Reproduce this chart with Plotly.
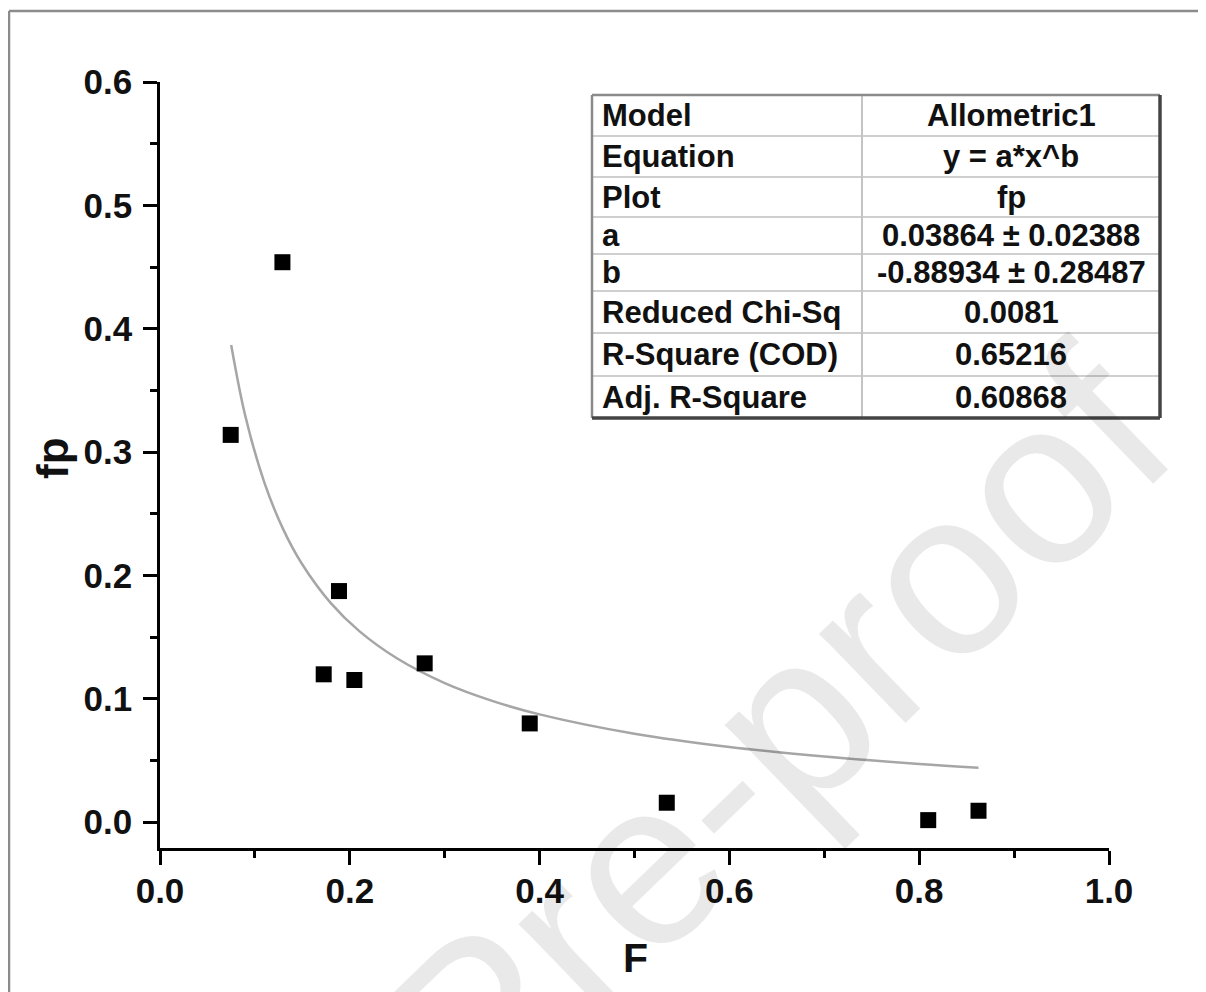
import plotly.graph_objects as go

# ---- data ----
F_values = [0.0745, 0.129, 0.1886, 0.1725, 0.2048, 0.2789, 0.3896, 0.534, 0.8095, 0.8625]
fp_values = [0.3139, 0.4539, 0.1873, 0.1198, 0.1152, 0.1287, 0.0800, 0.0157, 0.0016, 0.0092]

fit_F = [0.075, 0.09, 0.11, 0.13, 0.15, 0.18, 0.21, 0.25, 0.30, 0.35, 0.40, 0.50, 0.60, 0.70, 0.80, 0.8625]
fit_fp = [0.3868, 0.3289, 0.2752, 0.2371, 0.2088, 0.1775, 0.1548, 0.1326, 0.1127, 0.0983,
          0.0873, 0.0716, 0.0609, 0.0531, 0.0471, 0.0441]

table_labels = ["Model", "Equation", "Plot", "a", "b", "Reduced Chi-Sq", "R-Square (COD)", "Adj. R-Square"]
table_values = ["Allometric1", "y = a*x^b", "fp", "0.03864 ± 0.02388", "-0.88934 ± 0.28487",
                "0.0081", "0.65216", "0.60868"]

x_ticks = [0.0, 0.2, 0.4, 0.6, 0.8, 1.0]
y_ticks = [0.0, 0.1, 0.2, 0.3, 0.4, 0.5, 0.6]

# ---- layout geometry (page pixels; the page body has an 8px margin) ----
OFF = 8
W, H = 1206 - OFF, 992 - OFF
L, T = 160 - OFF, 82 - OFF
R = W - (1109 - OFF)
B = H - (848 - OFF)
PW, PH = W - L - R, H - T - B


def px(X):
    return (X - OFF - L) / PW


def py(Y):
    return (H - B - (Y - OFF)) / PH


FONT = "Arial, Liberation Sans, sans-serif"

fig = go.Figure()

fig.add_trace(go.Scatter(
    x=fit_F, y=fit_fp, mode="lines", line=dict(color="#a6a6a6", width=2.5, shape="spline"),
    showlegend=False, hoverinfo="skip"))

fig.add_trace(go.Scatter(
    x=F_values, y=fp_values, mode="markers",
    marker=dict(symbol="square", size=16, color="black", line=dict(width=0)),
    showlegend=False, cliponaxis=False))

axis_common = dict(
    showline=True, linecolor="black", linewidth=2.5, mirror=False,
    ticks="outside", ticklen=14, tickwidth=2.5, tickcolor="black",
    showgrid=False, zeroline=False,
    tickfont=dict(family=FONT, size=35, color="#111111", weight="bold"),
)

fig.update_xaxes(range=[0, 1.0], tickvals=x_ticks, tickformat=".1f",
                 minor=dict(ticks="outside", ticklen=7, tickwidth=2.5, tickcolor="black", dtick=0.1, showgrid=False),
                 ticklabelstandoff=-4, **axis_common)
fig.update_yaxes(range=[-0.021, 0.6], tickvals=y_ticks, tickformat=".1f",
                 minor=dict(ticks="outside", ticklen=7, tickwidth=2.5, tickcolor="black", dtick=0.05, showgrid=False),
                 ticklabelstandoff=4, **axis_common)

shapes = []
annotations = []

# outer border of the image (top and left only)
shapes.append(dict(type="line", xref="paper", yref="paper", x0=px(9), x1=px(1220), y0=py(11), y1=py(11),
                   line=dict(color="#8c8c8c", width=2.5)))
shapes.append(dict(type="line", xref="paper", yref="paper", x0=px(9), x1=px(9), y0=py(11), y1=py(1010),
                   line=dict(color="#8c8c8c", width=2.5)))

# watermark
annotations.append(dict(text="Pre-proof", xref="paper", yref="paper", x=px(776), y=py(734),
                        showarrow=False, textangle=-44, xanchor="center", yanchor="middle",
                        font=dict(family=FONT, size=235, color="rgba(0,0,0,0.085)")))

# results table
tl, tm, tr = 592, 862, 1160
row_edges = [95, 136, 177, 217, 254, 291, 333, 376, 418]
shapes.append(dict(type="rect", xref="paper", yref="paper", x0=px(tl), x1=px(tr), y0=py(row_edges[-1]),
                   y1=py(row_edges[0]), fillcolor="white", line=dict(width=0), layer="above"))
for e in row_edges[1:-1]:
    shapes.append(dict(type="line", xref="paper", yref="paper", x0=px(tl), x1=px(tr), y0=py(e), y1=py(e),
                       line=dict(color="#cfcfcf", width=2), layer="above"))
shapes.append(dict(type="line", xref="paper", yref="paper", x0=px(tm), x1=px(tm), y0=py(row_edges[0]),
                   y1=py(row_edges[-1]), line=dict(color="#c4c4c4", width=2), layer="above"))
shapes.append(dict(type="line", xref="paper", yref="paper", x0=px(tl), x1=px(tr), y0=py(row_edges[0]),
                   y1=py(row_edges[0]), line=dict(color="#8a8a8a", width=2.5), layer="above"))
shapes.append(dict(type="line", xref="paper", yref="paper", x0=px(tl), x1=px(tl), y0=py(row_edges[0]),
                   y1=py(row_edges[-1]), line=dict(color="#8a8a8a", width=2.5), layer="above"))
shapes.append(dict(type="line", xref="paper", yref="paper", x0=px(tr), x1=px(tr), y0=py(row_edges[0]),
                   y1=py(row_edges[-1]), line=dict(color="#444444", width=3.5), layer="above"))
shapes.append(dict(type="line", xref="paper", yref="paper", x0=px(tl), x1=px(tr), y0=py(row_edges[-1]),
                   y1=py(row_edges[-1]), line=dict(color="#444444", width=3.5), layer="above"))

for i, (lab, val) in enumerate(zip(table_labels, table_values)):
    yc = (row_edges[i] + row_edges[i + 1]) / 2
    annotations.append(dict(text=lab, xref="paper", yref="paper", x=px(tl + 8), y=py(yc),
                            xanchor="left", yanchor="middle", showarrow=False,
                            font=dict(family=FONT, size=31, color="#111111", weight="bold")))
    annotations.append(dict(text=val, xref="paper", yref="paper", x=px((tm + tr) / 2), y=py(yc),
                            xanchor="center", yanchor="middle", showarrow=False,
                            font=dict(family=FONT, size=31, color="#111111", weight="bold")))

# axis titles
annotations.append(dict(text="F", xref="paper", yref="paper", x=px(635), y=py(958),
                        xanchor="center", yanchor="middle", showarrow=False,
                        font=dict(family=FONT, size=41, color="#111111", weight="bold")))
annotations.append(dict(text="fp", xref="paper", yref="paper", x=px(52), y=py(458),
                        xanchor="center", yanchor="middle", showarrow=False, textangle=-90,
                        font=dict(family=FONT, size=44, color="#111111", weight="bold")))

fig.update_layout(
    width=W, height=H, margin=dict(l=L, r=R, t=T, b=B),
    paper_bgcolor="white", plot_bgcolor="rgba(0,0,0,0)",
    shapes=shapes, annotations=annotations, showlegend=False,
)

fig.write_html("out.html")
